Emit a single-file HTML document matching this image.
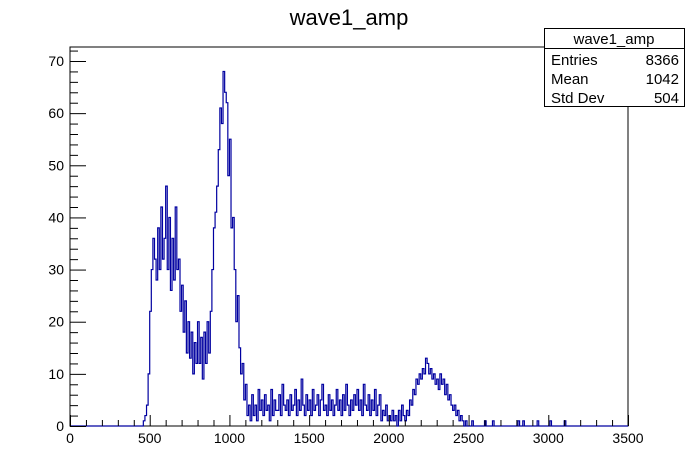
<!DOCTYPE html>
<html><head><meta charset="utf-8"><style>
body{margin:0;background:#fff;}
svg{display:block;font-family:"Liberation Sans",sans-serif;}
</style></head><body>
<svg id="c" width="698" height="474" viewBox="0 0 698 474">
<rect width="698" height="474" fill="#fff"/>
<text x="349" y="25" text-anchor="middle" font-size="22">wave1_amp</text>
<rect x="70" y="47" width="558" height="379" fill="none" stroke="#000" stroke-width="1"/>
<g id="hist"></g>
<g id="axes"></g>
<g>
<rect x="544.5" y="28.5" width="140" height="78" fill="#fff" stroke="#000"/>
<line x1="544.5" y1="48.5" x2="684.5" y2="48.5" stroke="#000"/>
<text x="614" y="44" text-anchor="middle" font-size="15">wave1_amp</text>
<text x="551" y="65" font-size="15">Entries</text>
<text x="679" y="65" font-size="15" text-anchor="end">8366</text>
<text x="551" y="84" font-size="15">Mean</text>
<text x="679" y="84" font-size="15" text-anchor="end">1042</text>
<text x="551" y="103" font-size="15">Std Dev</text>
<text x="679" y="103" font-size="15" text-anchor="end">504</text>
</g>
</svg>
<script>
const binStart = 450;
const binWidth = 10;
const counts = [
0,1,2,4,10,
22,30,36,32,28,38,30,42,32,36,
46,30,40,26,36,28,42,30,32,22,
27,18,24,14,20,13,18,10,16,12,
20,12,17,9,18,12,20,14,22,30,
38,41,46,53,61,58,68,64,62,48,
55,38,40,30,20,25,15,10,12,5,
8,2,4,1,6,2,4,1,7,3,
5,2,6,3,4,1,7,2,5,3,
3,6,2,8,4,3,5,2,6,3,
4,7,2,5,3,9,4,2,6,3,
5,2,7,3,4,6,2,5,8,3,
4,2,6,3,5,2,4,7,3,5,
2,6,3,8,4,2,5,3,6,4,
7,3,5,2,8,4,3,6,2,5,
3,7,2,4,6,1,3,2,4,1,
2,1,3,1,2,0,3,1,4,2,
1,3,2,5,4,7,6,9,8,10,
9,11,10,13,12,10,11,9,10,8,
9,7,10,8,9,6,8,5,6,4,
3,4,2,3,1,2,1,0,1,0
];
const sparseX = [2520,2600,2650,2810,2840,2930,3010,3100];
const sparseCounts = [1,1,1,1,1,1,1,1];
const xTicks = [0,500,1000,1500,2000,2500,3000,3500];
const yTicks = [0,10,20,30,40,50,60,70];

const X0=70,X1=628,Y0=426,YT=61;
const xMax=3500,yRef=70;
const px=v=>X0+v*(X1-X0)/xMax;
const py=v=>Y0-v*(Y0-YT)/yRef;
const NS="http://www.w3.org/2000/svg";
const hist=document.getElementById('hist');
const axes=document.getElementById('axes');

// build full bin map
const bins=new Map();
counts.forEach((c,i)=>bins.set(binStart+i*binWidth,c));
sparseX.forEach((x,i)=>bins.set(x,(bins.get(x)||0)+sparseCounts[i]));
const keys=[...bins.keys()].sort((a,b)=>a-b);
let d="M"+X0+","+Y0;
let cur=0;
let lastEnd=0;
keys.forEach(k=>{
  const c=bins.get(k);
  if(k>lastEnd){ d+=" V"+py(0).toFixed(2)+" H"+px(k).toFixed(2); cur=0;}
  d+=" V"+py(c).toFixed(2)+" H"+px(k+binWidth).toFixed(2);
  lastEnd=k+binWidth; cur=c;
});
d+=" V"+Y0+" H"+X1;
const p=document.createElementNS(NS,'path');
p.setAttribute('d',d);p.setAttribute('fill','none');p.setAttribute('stroke','#0000a0');p.setAttribute('stroke-width','1.2');


hist.appendChild(p);

function line(x1,y1,x2,y2,name){
  const l=document.createElementNS(NS,'line');
  l.setAttribute('x1',x1);l.setAttribute('y1',y1);l.setAttribute('x2',x2);l.setAttribute('y2',y2);
  l.setAttribute('stroke','#000');l.setAttribute('stroke-width','1');
  
  
  axes.appendChild(l);
}
function text(x,y,s,anchor,name){
  const t=document.createElementNS(NS,'text');
  t.setAttribute('x',x);t.setAttribute('y',y);t.setAttribute('text-anchor',anchor);t.setAttribute('font-size','14');
  t.textContent=s;
  
  
  axes.appendChild(t);
}
// x ticks
for(let v=0;v<=xMax;v+=100){
  const x=px(v)+0.5;
  const major=v%500===0;
  line(x,Y0,x,Y0-(major?11:6),'x-tick');
}
xTicks.forEach(v=>text(px(v),443,String(v),'middle','x-tick-label'));
// y ticks
for(let v=0;v<=72;v+=2){
  const y=py(v)+0.5;
  const major=v%10===0;
  line(X0,y,X0+(major?16:8),y,'y-tick');
}
yTicks.forEach(v=>text(64,py(v)+5,String(v),'end','y-tick-label'));
</script>
</body></html>
